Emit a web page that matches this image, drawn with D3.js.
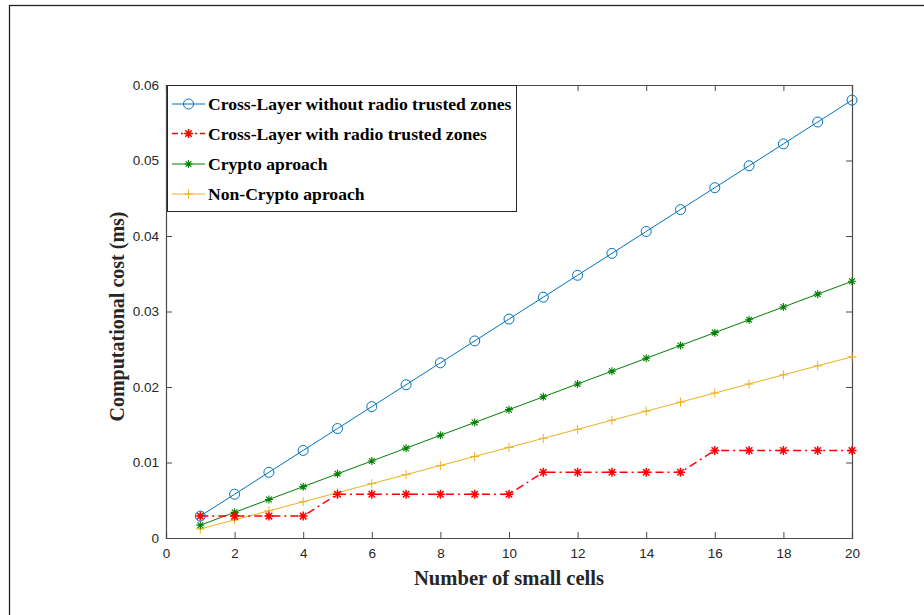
<!DOCTYPE html>
<html>
<head>
<meta charset="utf-8">
<script src="https://cdn.jsdelivr.net/npm/d3@7"></script>
<style>
  html, body { margin: 0; padding: 0; background: #fff; }
  svg { display: block; }
</style>
</head>
<body>
<div id="chart"></div>
<script>
// Number of small cells (x values)
const cells = d3.range(1, 21);

// Computational cost (ms) per scheme
const crossLayerNoZones = [0.0029, 0.0058, 0.0087, 0.0116, 0.0145, 0.0174, 0.0203, 0.0232, 0.0261, 0.0290,
                           0.0319, 0.0348, 0.0377, 0.0406, 0.0435, 0.0464, 0.0493, 0.0522, 0.0551, 0.0580];
const crossLayerZones   = [0.0029, 0.0029, 0.0029, 0.0029, 0.0058, 0.0058, 0.0058, 0.0058, 0.0058, 0.0058,
                           0.0087, 0.0087, 0.0087, 0.0087, 0.0087, 0.0116, 0.0116, 0.0116, 0.0116, 0.0116];
const cryptoApproach    = [0.0017, 0.0034, 0.0051, 0.0068, 0.0085, 0.0102, 0.0119, 0.0136, 0.0153, 0.0170,
                           0.0187, 0.0204, 0.0221, 0.0238, 0.0255, 0.0272, 0.0289, 0.0306, 0.0323, 0.0340];
const nonCryptoApproach = [0.0012, 0.0024, 0.0036, 0.0048, 0.0060, 0.0072, 0.0084, 0.0096, 0.0108, 0.0120,
                           0.0132, 0.0144, 0.0156, 0.0168, 0.0180, 0.0192, 0.0204, 0.0216, 0.0228, 0.0240];

const seriesNames = [
  "Cross-Layer without radio trusted zones",
  "Cross-Layer with radio trusted zones",
  "Crypto aproach",
  "Non-Crypto aproach"
];

const xTicks = [0, 2, 4, 6, 8, 10, 12, 14, 16, 18, 20];
const yTicks = [0, 0.01, 0.02, 0.03, 0.04, 0.05, 0.06];

const W = 924, H = 615;
const margin = { left: 166, top: 85, right: W - 852, bottom: H - 538 };

const svg = d3.select("#chart").append("svg")
  .attr("width", W).attr("height", H);

// Figure frame
svg.append("rect")
  .attr("x", 9.5).attr("y", 5.5)
  .attr("width", 1000).attr("height", 1000)
  .attr("fill", "none").attr("stroke", "#222").attr("stroke-width", 1.3);

const x = d3.scaleLinear().domain([0, 20]).range([margin.left, W - margin.right]);
const y = d3.scaleLinear().domain([0, 0.06]).range([H - margin.bottom, margin.top]);

const axisColor = "#4a4a4a";
const tickFont = "'Liberation Sans', Arial, sans-serif";
const serif = "'Liberation Serif', 'Times New Roman', serif";

// Axes (ticks pointing inward, box on all four sides)
const gx = svg.append("g").attr("transform", `translate(0,${y(0)})`)
  .call(d3.axisBottom(x).tickValues(xTicks).tickSize(-6).tickPadding(10).tickFormat(d3.format("d")));
const gxTop = svg.append("g").attr("transform", `translate(0,${y(0.06)})`)
  .call(d3.axisTop(x).tickValues(xTicks).tickSize(-6).tickFormat(""));
const gy = svg.append("g").attr("transform", `translate(${x(0)},0)`)
  .call(d3.axisLeft(y).tickValues(yTicks).tickSize(-6).tickPadding(7).tickFormat(d => d === 0 ? "0" : d3.format(".2f")(d)));
const gyRight = svg.append("g").attr("transform", `translate(${x(20)},0)`)
  .call(d3.axisRight(y).tickValues(yTicks).tickSize(-6).tickFormat(""));

[gx, gxTop, gy, gyRight].forEach(g => {
  g.select(".domain").attr("stroke", axisColor).attr("stroke-width", 1.2);
  g.selectAll(".tick line").attr("stroke", axisColor).attr("stroke-width", 1);
  g.selectAll(".tick text").attr("fill", "#262626")
    .style("font-family", tickFont).style("font-size", "13.5px");
});

// Axis titles
svg.append("text")
  .attr("x", (x(0) + x(20)) / 2).attr("y", 585)
  .attr("text-anchor", "middle")
  .attr("textLength", 190).attr("lengthAdjust", "spacingAndGlyphs")
  .style("font-family", serif).style("font-weight", "bold").style("font-size", "22px")
  .attr("fill", "#262626")
  .text("Number of small cells");

svg.append("text")
  .attr("transform", `translate(124,316.5) rotate(-90)`)
  .attr("text-anchor", "middle")
  .attr("textLength", 210).attr("lengthAdjust", "spacingAndGlyphs")
  .style("font-family", serif).style("font-weight", "bold").style("font-size", "22px")
  .attr("fill", "#262626")
  .text("Computational cost (ms)");

// Marker shapes
function drawMarker(g, type, color, cx, cy) {
  if (type === "circle") {
    g.append("circle").attr("cx", cx).attr("cy", cy).attr("r", 5)
      .attr("fill", "none").attr("stroke", color).attr("stroke-width", 1);
  } else if (type === "star" || type === "smallstar") {
    const big = type === "star";
    const r = big ? 4.5 : 4, d = r * 0.72;
    const p = d3.path();
    p.moveTo(cx - r, cy); p.lineTo(cx + r, cy);
    p.moveTo(cx, cy - r); p.lineTo(cx, cy + r);
    p.moveTo(cx - d, cy - d); p.lineTo(cx + d, cy + d);
    p.moveTo(cx - d, cy + d); p.lineTo(cx + d, cy - d);
    g.append("path").attr("d", p.toString()).attr("stroke", color)
      .attr("stroke-width", big ? 1.5 : 1.1).attr("fill", "none");
  } else if (type === "plus") {
    const r = 4.5;
    const p = d3.path();
    p.moveTo(cx - r, cy); p.lineTo(cx + r, cy);
    p.moveTo(cx, cy - r); p.lineTo(cx, cy + r);
    g.append("path").attr("d", p.toString()).attr("stroke", color).attr("stroke-width", 1).attr("fill", "none");
  }
}

const series = [
  { name: seriesNames[0], values: crossLayerNoZones, color: "#0072BD", marker: "circle", width: 1, dash: null },
  { name: seriesNames[1], values: crossLayerZones, color: "#FF0000", marker: "star", width: 1.5, dash: "8,4,2,4" },
  { name: seriesNames[2], values: cryptoApproach, color: "#008000", marker: "smallstar", width: 1, dash: null },
  { name: seriesNames[3], values: nonCryptoApproach, color: "#EDB120", marker: "plus", width: 1, dash: null }
];

const line = d3.line().x(d => x(d[0])).y(d => y(d[1]));

// Draw in reverse so the first series sits on top
series.slice().reverse().forEach(s => {
  const g = svg.append("g");
  const pts = cells.map((c, i) => [c, s.values[i]]);
  g.append("path").attr("d", line(pts))
    .attr("fill", "none").attr("stroke", s.color).attr("stroke-width", s.width)
    .attr("stroke-dasharray", s.dash);
  pts.forEach(p => drawMarker(g, s.marker, s.color, x(p[0]), y(p[1])));
});

// Legend
const lg = svg.append("g");
lg.append("rect")
  .attr("x", 167.5).attr("y", 85.5).attr("width", 349).attr("height", 126)
  .attr("fill", "#fff").attr("stroke", "#262626").attr("stroke-width", 1);
const rowY = [104, 133.5, 164, 194];
series.forEach((s, i) => {
  const cy = rowY[i];
  lg.append("line").attr("x1", 172).attr("x2", 205).attr("y1", cy).attr("y2", cy)
    .attr("stroke", s.color).attr("stroke-width", s.width).attr("stroke-dasharray", s.dash ? "6,3,2,3" : null);
  drawMarker(lg, s.marker, s.color, 188.5, cy);
  lg.append("text").attr("x", 208).attr("y", cy).attr("dy", "0.35em")
    .style("font-family", serif).style("font-weight", "bold").style("font-size", "17.6px")
    .attr("fill", "#000")
    .text(s.name);
});
</script>
</body>
</html>
